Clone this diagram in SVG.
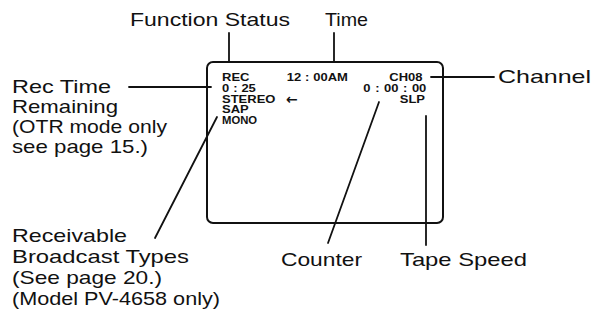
<svg xmlns="http://www.w3.org/2000/svg" width="596" height="320" viewBox="0 0 596 320">
<style>
.lbl{font-family:"Liberation Sans",Arial,sans-serif;font-size:18.5px;fill:#111}
.osd{font-family:"Liberation Sans",Arial,sans-serif;font-size:10px;font-weight:bold;fill:#111}
.ln{stroke:#111;stroke-width:1.8;fill:none;stroke-linecap:round}
</style>
<rect width="596" height="320" fill="#fff"/>
<g id="screen">
<rect x="207" y="62" width="236" height="161" rx="6" ry="6" fill="none" stroke="#111" stroke-width="2"/>
<g transform="scale(1.3 1)">
<text class="osd" x="170.8" y="81">REC</text>
<text class="osd" x="220.5" y="81" dx="0 0 3 3">12:00AM</text>
<text class="osd" x="299.5" y="81">CH08</text>
<text class="osd" x="170.8" y="92" dx="0 3 3">0:25</text>
<text class="osd" x="279.5" y="92" dx="0 3.5 3.5 0 3.5 3.5">0:00:00</text>
<text class="osd" x="170.8" y="103">STEREO</text>
<text class="osd" x="307.5" y="103">SLP</text>
<text class="osd" x="170.8" y="113.5">SAP</text>
<text class="osd" x="170.8" y="124" textLength="27" lengthAdjust="spacingAndGlyphs">MONO</text>
</g>
<text x="286" y="104" style="font-family:'DejaVu Sans',sans-serif;font-size:14px;font-weight:bold;fill:#111">←</text>
</g>
<g id="function-status"><text class="lbl" x="130" y="26" textLength="160" lengthAdjust="spacingAndGlyphs">Function Status</text></g>
<g id="time"><text class="lbl" x="325" y="26" textLength="43" lengthAdjust="spacingAndGlyphs">Time</text></g>
<g id="rec-time">
<text class="lbl" x="12" y="93" textLength="99" lengthAdjust="spacingAndGlyphs">Rec Time</text>
<text class="lbl" x="12" y="113" textLength="106" lengthAdjust="spacingAndGlyphs">Remaining</text>
<text class="lbl" x="12" y="133" textLength="155" lengthAdjust="spacingAndGlyphs">(OTR mode only</text>
<text class="lbl" x="12" y="153" textLength="136" lengthAdjust="spacingAndGlyphs">see page 15.)</text>
</g>
<g id="channel"><text class="lbl" x="498" y="83" textLength="93" lengthAdjust="spacingAndGlyphs">Channel</text></g>
<g id="receivable">
<text class="lbl" x="12" y="242" textLength="115" lengthAdjust="spacingAndGlyphs">Receivable</text>
<text class="lbl" x="12" y="263" textLength="177" lengthAdjust="spacingAndGlyphs">Broadcast Types</text>
<text class="lbl" x="12" y="284" textLength="150" lengthAdjust="spacingAndGlyphs">(See page 20.)</text>
<text class="lbl" x="12" y="305" textLength="208" lengthAdjust="spacingAndGlyphs">(Model PV-4658 only)</text>
</g>
<g id="counter"><text class="lbl" x="281" y="266" textLength="81" lengthAdjust="spacingAndGlyphs">Counter</text></g>
<g id="tape-speed"><text class="lbl" x="400" y="266" textLength="127" lengthAdjust="spacingAndGlyphs">Tape Speed</text></g>
<g id="connectors">
<line class="ln" x1="229" y1="33" x2="229" y2="62"/>
<line class="ln" x1="334" y1="33" x2="334" y2="62"/>
<line class="ln" x1="129" y1="87" x2="211" y2="87"/>
<line class="ln" x1="431" y1="77" x2="494" y2="77"/>
<line class="ln" x1="217" y1="117" x2="155" y2="238"/>
<line class="ln" x1="379" y1="102" x2="328" y2="243"/>
<line class="ln" x1="426" y1="116" x2="426" y2="245"/>
</g>
</svg>
